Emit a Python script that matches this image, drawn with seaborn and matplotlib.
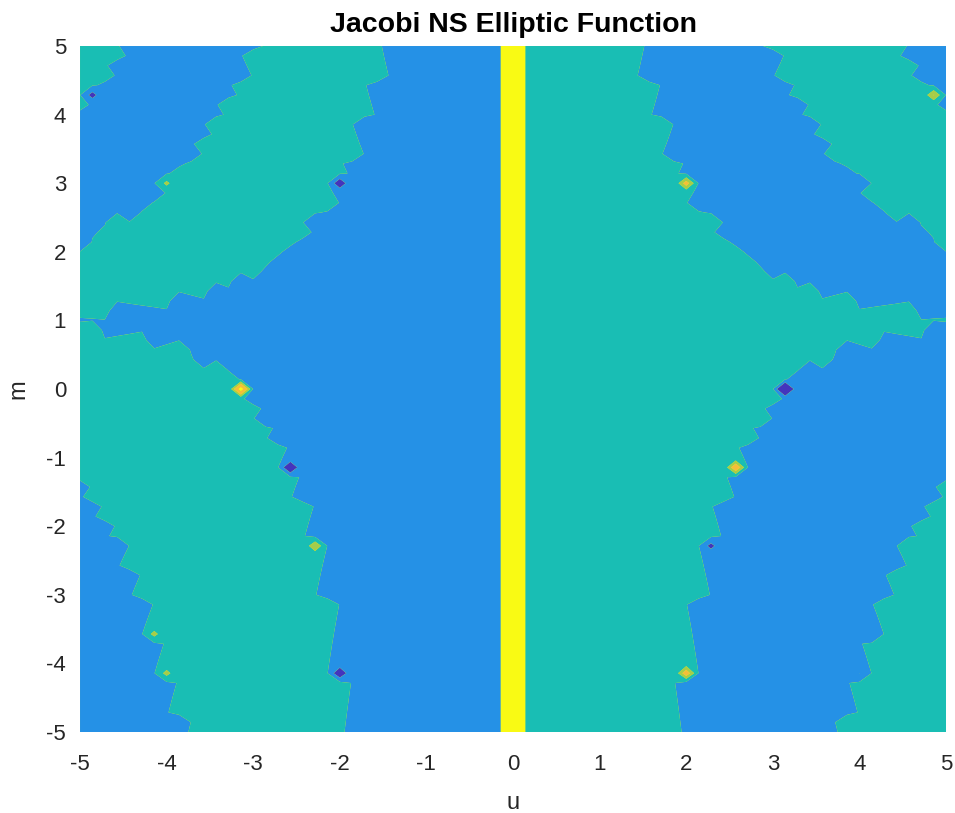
import numpy as np
import matplotlib
matplotlib.use("Agg")
import matplotlib.pyplot as plt
import seaborn as sns

# ---- chart definition (MATLAB fcontour of jacobiNS(u, m), filled) ----
u_limits = [-5.0, 5.0]
m_limits = [-5.0, 5.0]
mesh_density = 71                      # fcontour default sampling
inner_levels = [-250.0, 0.0, 180.0, 350.0, 650.0]
band_colors = ["#4434bd", "#2591e6", "#19beb4", "#a6cc4a", "#f4be3a", "#f9fa14"]
pole_color = "#f9fa14"
x_ticks = [-5, -4, -3, -2, -1, 0, 1, 2, 3, 4, 5]
y_ticks = [-5, -4, -3, -2, -1, 0, 1, 2, 3, 4, 5]
title_text = "Jacobi NS Elliptic Function"
x_label = "u"
y_label = "m"


def sn_dn_agm(u, m, n_iter=16):
    """Jacobi sn, dn for 0 <= m < 1 via the arithmetic-geometric mean."""
    a = np.ones_like(m)
    b = np.sqrt(1.0 - m)
    c = np.sqrt(m)
    A, C = [a], [c]
    for _ in range(n_iter):
        a, b, c = (a + b) / 2.0, np.sqrt(a * b), (a - b) / 2.0
        A.append(a)
        C.append(c)
    phi = (2.0 ** n_iter) * A[n_iter] * u
    for n in range(n_iter, 0, -1):
        phi = 0.5 * (phi + np.arcsin(np.clip(C[n] / A[n] * np.sin(phi), -1, 1)))
    sn = np.sin(phi)
    dn = np.sqrt(1.0 - m * sn ** 2)
    return sn, dn


def jacobi_ns(u, m):
    sn = np.empty_like(u)
    one = np.isclose(m, 1.0)
    lo = (m >= 0) & (m < 1) & ~one
    hi = (m > 1) & ~one
    neg = m < 0
    sn[one] = np.tanh(u[one])
    s, _ = sn_dn_agm(u[lo], m[lo])
    sn[lo] = s
    r = np.sqrt(m[hi])
    s, _ = sn_dn_agm(u[hi] * r, 1.0 / m[hi])
    sn[hi] = s / r
    mu1 = 1.0 / (1.0 - m[neg])
    mu = -m[neg] / (1.0 - m[neg])
    s, d = sn_dn_agm(u[neg] / np.sqrt(mu1), mu)
    sn[neg] = np.sqrt(mu1) * s / d
    with np.errstate(divide="ignore"):
        ns = 1.0 / sn
    ns[~np.isfinite(ns)] = np.nan
    return ns


u_axis = np.round(np.linspace(u_limits[0], u_limits[1], mesh_density), 12)
m_axis = np.round(np.linspace(m_limits[0], m_limits[1], mesh_density), 12)
U, M = np.meshgrid(u_axis, m_axis)
Z = jacobi_ns(U, M)

zmin, zmax = np.nanmin(Z), np.nanmax(Z)
levels = [min(zmin, inner_levels[0]) - 1.0] + inner_levels + [max(zmax, inner_levels[-1]) + 1.0]

sns.set_theme(style="white")
plt.rcParams["font.family"] = ["Liberation Sans", "DejaVu Sans"]

fig = plt.figure(figsize=(9.55, 8.13), dpi=100)
ax = fig.add_axes([0.0838, 0.0996, 0.9068, 0.8438])
ax.set_facecolor(pole_color)
ax.contourf(U, M, Z, levels=levels, colors=band_colors, antialiased=True)

ax.set_xlim(u_limits)
ax.set_ylim(m_limits)
ax.set_xticks(x_ticks)
ax.set_yticks(y_ticks)
ax.set_xticklabels([str(t) for t in x_ticks])
ax.set_yticklabels([str(t) for t in y_ticks])
ax.tick_params(axis="both", length=0, labelsize=16, colors="#262626")
ax.tick_params(axis="x", pad=16)
ax.tick_params(axis="y", pad=10)
for sp in ax.spines.values():
    sp.set_visible(False)
ax.set_xlabel(x_label, fontsize=17, color="#262626", labelpad=12)
ax.set_ylabel(y_label, fontsize=17, color="#262626", labelpad=12)
ax.set_title(title_text, fontsize=20.5, fontweight="bold", color="black", pad=10)

fig.savefig("out.png", dpi=100)
